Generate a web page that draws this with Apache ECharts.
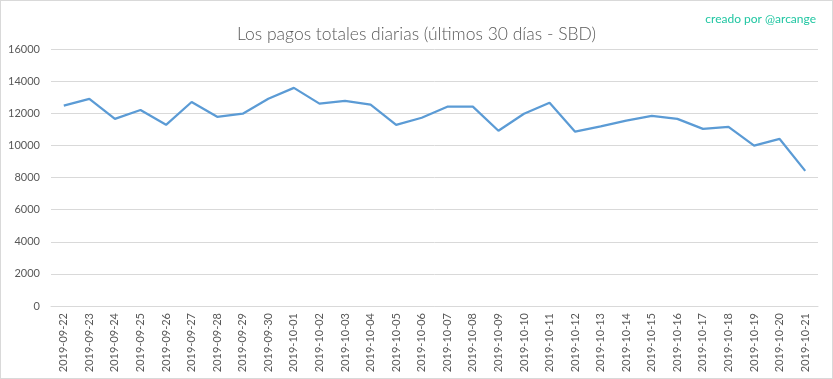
<!DOCTYPE html>
<html>
<head>
<meta charset="utf-8">
<script src="https://cdn.jsdelivr.net/npm/echarts@6/dist/echarts.min.js"></script>
<style>
html,body{margin:0;padding:0;background:#fff;}
#chart{width:831px;height:377px;border:1px solid #d9d9d9;}
</style>
</head>
<body>
<div id="chart"></div>
<script>
const categories = ["2019-09-22","2019-09-23","2019-09-24","2019-09-25","2019-09-26","2019-09-27","2019-09-28","2019-09-29","2019-09-30","2019-10-01","2019-10-02","2019-10-03","2019-10-04","2019-10-05","2019-10-06","2019-10-07","2019-10-08","2019-10-09","2019-10-10","2019-10-11","2019-10-12","2019-10-13","2019-10-14","2019-10-15","2019-10-16","2019-10-17","2019-10-18","2019-10-19","2019-10-20","2019-10-21"];
const payouts = [12480,12900,11650,12200,11280,12700,11780,11970,12900,13580,12600,12770,12540,11280,11720,12410,12410,10910,11970,12650,10850,11180,11540,11830,11650,11030,11150,9980,10400,8410];
const yTicks = {min:0, max:16000, interval:2000};

const chart = echarts.init(document.getElementById('chart'));
chart.setOption({
  animation:false,
  textStyle:{fontFamily:'Lato, "Open Sans", sans-serif'},
  title:[{
    text:'Los pagos totales diarias (últimos 30 días - SBD)',
    left:'center', top:19,
    textStyle:{fontFamily:'Lato',fontWeight:300,fontSize:17.5,color:'#595959'}
  },{
    text:'creado por @arcange',
    right:11, top:7,
    textStyle:{fontFamily:'Lato',fontWeight:'normal',fontSize:12,color:'#20c6a2'}
  }],
  grid:{left:50,right:14,top:48,bottom:72,containLabel:false},
  xAxis:{
    type:'category', data:categories, boundaryGap:true,
    axisLine:{lineStyle:{color:'#d9d9d9'}},
    axisTick:{show:false},
    axisLabel:{rotate:90,color:'#595959',fontSize:11,margin:7,interval:0}
  },
  yAxis:{
    type:'value', min:yTicks.min, max:yTicks.max, interval:yTicks.interval,
    axisLine:{show:false}, axisTick:{show:false},
    splitLine:{lineStyle:{color:'#d9d9d9'}},
    axisLabel:{color:'#595959',fontSize:11,margin:11,formatter:function(v){return String(v);}}
  },
  series:[{
    type:'line', data:payouts, symbol:'none',
    lineStyle:{color:'#5b9bd5',width:2.25},
    itemStyle:{color:'#5b9bd5'}
  }]
});
</script>
</body>
</html>
